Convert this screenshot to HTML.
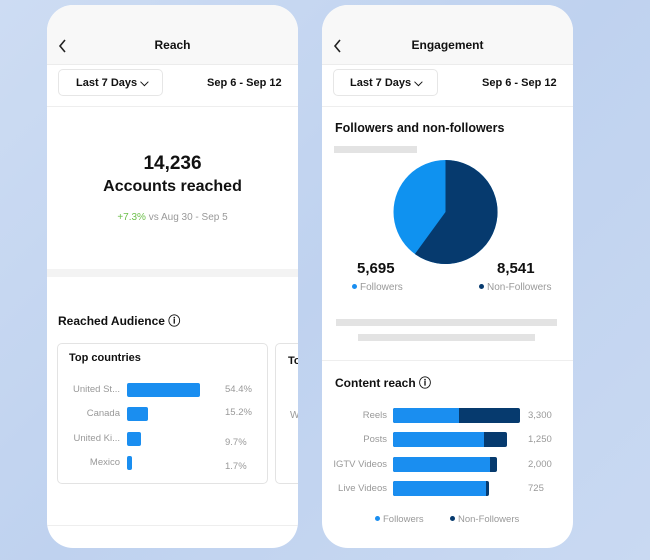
<!DOCTYPE html>
<html><head><meta charset="utf-8"><style>
*{margin:0;padding:0;box-sizing:border-box}
body{width:650px;height:560px;overflow:hidden;background:linear-gradient(135deg,#cddcf3 0%,#bfd2ef 50%,#c9d9f2 100%);font-family:"Liberation Sans",sans-serif;position:relative;color:#111}
.card{position:absolute;top:5px;width:251px;height:543px;background:#fff;border-radius:26px;overflow:hidden}
.hdr{position:absolute;left:0;top:0;width:100%;height:60px;background:#f8f8f8;border-bottom:1px solid #ececec}
.t{position:absolute;white-space:nowrap}
.b{font-weight:bold}
.sep{position:absolute;left:0;width:100%;height:1px;background:#eee}
.gray{color:#999}
.dot{display:inline-block;width:5px;height:5px;border-radius:50%;vertical-align:middle;margin-right:3px;position:relative;top:-1px}
</style></head><body>

<div class="card" style="left:47px">
 <div class="hdr"></div>
 <svg style="position:absolute;left:11px;top:34px" width="10" height="14"><path d="M7 1 L2 7 L7 13" stroke="#222" stroke-width="1.6" fill="none"/></svg>
 <div class="t b" style="left:0;width:251px;text-align:center;top:33px;font-size:12px">Reach</div>
 <div style="position:absolute;left:11px;top:64px;width:105px;height:27px;border:1px solid #e6e6e6;border-radius:5px"></div>
 <div class="t b" style="left:29px;top:72px;font-size:11px">Last 7 Days ⌵</div>
 <div class="t b" style="left:160px;top:72px;font-size:11px">Sep 6 - Sep 12</div>
 <div class="sep" style="top:101px"></div>
 <div class="t b" style="left:0;width:251px;text-align:center;top:148px;font-size:19px">14,236</div>
 <div class="t b" style="left:0;width:251px;text-align:center;top:173px;font-size:16px">Accounts reached</div>
 <div class="t" style="left:0;width:251px;text-align:center;top:207px;font-size:10px;color:#999"><span style="color:#6cbf4a">+7.3%</span> vs Aug 30 - Sep 5</div>
 <div style="position:absolute;left:0;top:264px;width:100%;height:8px;background:#f3f3f3"></div>
 <div class="t b" style="left:11px;top:307px;font-size:12px">Reached Audience ⓘ</div>
 <div style="position:absolute;left:10px;top:338px;width:211px;height:141px;border:1px solid #e3e3e3;border-radius:5px"></div>
 <div style="position:absolute;left:228px;top:338px;width:40px;height:141px;border:1px solid #e3e3e3;border-radius:5px"></div>
 <div class="t b" style="left:241px;top:350px;font-size:11px">To</div>
 <div class="t gray" style="left:243px;top:405px;font-size:10px">W</div>
 <div class="t b" style="left:22px;top:347px;font-size:11px">Top countries</div>
 <div class="t gray" style="left:0;width:73px;text-align:right;top:379px;font-size:9.5px">United St...</div>
 <div class="t gray" style="left:0;width:73px;text-align:right;top:403px;font-size:9.5px">Canada</div>
 <div class="t gray" style="left:0;width:73px;text-align:right;top:428px;font-size:9.5px">United Ki...</div>
 <div class="t gray" style="left:0;width:73px;text-align:right;top:452px;font-size:9.5px">Mexico</div>
 <div style="position:absolute;left:80px;top:378px;width:73px;height:14px;background:#1a8ef0;border-radius:2px"></div>
 <div style="position:absolute;left:80px;top:402px;width:21px;height:14px;background:#1a8ef0;border-radius:2px"></div>
 <div style="position:absolute;left:80px;top:427px;width:14px;height:14px;background:#1a8ef0;border-radius:2px"></div>
 <div style="position:absolute;left:80px;top:451px;width:5px;height:14px;background:#1a8ef0;border-radius:2px"></div>
 <div class="t gray" style="left:178px;top:379px;font-size:9.5px">54.4%</div>
 <div class="t gray" style="left:178px;top:402px;font-size:9.5px">15.2%</div>
 <div class="t gray" style="left:178px;top:432px;font-size:9.5px">9.7%</div>
 <div class="t gray" style="left:178px;top:456px;font-size:9.5px">1.7%</div>
 <div class="sep" style="top:520px"></div>
</div>

<div class="card" style="left:322px">
 <div class="hdr"></div>
 <svg style="position:absolute;left:11px;top:34px" width="10" height="14"><path d="M7 1 L2 7 L7 13" stroke="#222" stroke-width="1.6" fill="none"/></svg>
 <div class="t b" style="left:0;width:251px;text-align:center;top:33px;font-size:12px">Engagement</div>
 <div style="position:absolute;left:11px;top:64px;width:105px;height:27px;border:1px solid #e6e6e6;border-radius:5px"></div>
 <div class="t b" style="left:28px;top:72px;font-size:11px">Last 7 Days ⌵</div>
 <div class="t b" style="left:160px;top:72px;font-size:11px">Sep 6 - Sep 12</div>
 <div class="sep" style="top:101px"></div>
 <div class="t b" style="left:13px;top:116px;font-size:12.5px">Followers and non-followers</div>
 <div style="position:absolute;left:12px;top:141px;width:83px;height:7px;background:#e3e3e3"></div>
 <svg style="position:absolute;left:0;top:0" width="251" height="300">
  <circle cx="123.5" cy="207" r="52" fill="#0f92f0"/>
  <path d="M123.5 207 L123.5 155 A52 52 0 1 1 92.9 249 Z" fill="#063a6e"/>
 </svg>
 <div class="t b" style="left:35px;top:255px;font-size:15px">5,695</div>
 <div class="t gray" style="left:30px;top:277px;font-size:10px"><span class="dot" style="background:#1a8ef0"></span>Followers</div>
 <div class="t b" style="left:175px;top:255px;font-size:15px">8,541</div>
 <div class="t gray" style="left:157px;top:277px;font-size:10px"><span class="dot" style="background:#063a6e"></span>Non-Followers</div>
 <div style="position:absolute;left:14px;top:314px;width:221px;height:7px;background:#e3e3e3"></div>
 <div style="position:absolute;left:36px;top:329px;width:177px;height:7px;background:#e3e3e3"></div>
 <div class="sep" style="top:355px"></div>
 <div class="t b" style="left:13px;top:369px;font-size:12px">Content reach ⓘ</div>
 <div class="t gray" style="left:0;width:65px;text-align:right;top:405px;font-size:9.5px">Reels</div>
 <div class="t gray" style="left:0;width:65px;text-align:right;top:429px;font-size:9.5px">Posts</div>
 <div class="t gray" style="left:0;width:65px;text-align:right;top:454px;font-size:9.5px">IGTV Videos</div>
 <div class="t gray" style="left:0;width:65px;text-align:right;top:478px;font-size:9.5px">Live Videos</div>
 <div style="position:absolute;left:71px;top:403px;width:127px;height:15px;background:#063a6e;border-radius:2px"></div>
 <div style="position:absolute;left:71px;top:403px;width:66px;height:15px;background:#1a8ef0;border-radius:2px 0 0 2px"></div>
 <div style="position:absolute;left:71px;top:427px;width:114px;height:15px;background:#063a6e;border-radius:2px"></div>
 <div style="position:absolute;left:71px;top:427px;width:91px;height:15px;background:#1a8ef0;border-radius:2px 0 0 2px"></div>
 <div style="position:absolute;left:71px;top:452px;width:104px;height:15px;background:#063a6e;border-radius:2px"></div>
 <div style="position:absolute;left:71px;top:452px;width:97px;height:15px;background:#1a8ef0;border-radius:2px 0 0 2px"></div>
 <div style="position:absolute;left:71px;top:476px;width:96px;height:15px;background:#063a6e;border-radius:2px"></div>
 <div style="position:absolute;left:71px;top:476px;width:93px;height:15px;background:#1a8ef0;border-radius:2px 0 0 2px"></div>
 <div class="t gray" style="left:206px;top:405px;font-size:9.5px">3,300</div>
 <div class="t gray" style="left:206px;top:429px;font-size:9.5px">1,250</div>
 <div class="t gray" style="left:206px;top:454px;font-size:9.5px">2,000</div>
 <div class="t gray" style="left:206px;top:478px;font-size:9.5px">725</div>
 <div class="t gray" style="left:53px;top:509px;font-size:9.5px"><span class="dot" style="background:#1a8ef0"></span>Followers</div>
 <div class="t gray" style="left:128px;top:509px;font-size:9.5px"><span class="dot" style="background:#063a6e"></span>Non-Followers</div>
</div>
</body></html>
